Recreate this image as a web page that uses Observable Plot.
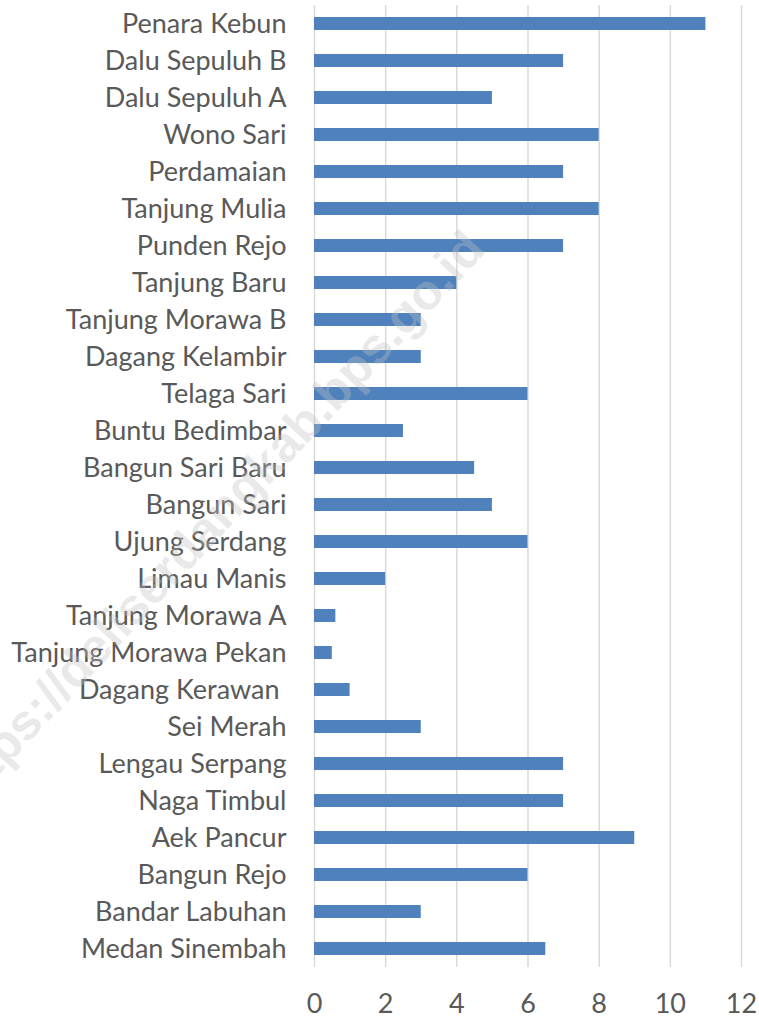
<!DOCTYPE html>
<html>
<head>
<meta charset="utf-8">
<script src="https://cdn.jsdelivr.net/npm/d3@7"></script>
<script src="https://cdn.jsdelivr.net/npm/@observablehq/plot@0.6"></script>
<style>
  html, body { margin: 0; padding: 0; background: #fff; }
  #chart { position: relative; width: 759px; height: 1019px; overflow: hidden; }
  #chart svg { display: block; }
  .wm { position: absolute; left: 0; top: 0; pointer-events: none; }
</style>
</head>
<body>
<div id="chart"></div>
<script>
const villages = [
  "Penara Kebun", "Dalu Sepuluh B", "Dalu Sepuluh A", "Wono Sari", "Perdamaian",
  "Tanjung Mulia", "Punden Rejo", "Tanjung Baru", "Tanjung Morawa B", "Dagang Kelambir",
  "Telaga Sari", "Buntu Bedimbar", "Bangun Sari Baru", "Bangun Sari", "Ujung Serdang",
  "Limau Manis", "Tanjung Morawa A", "Tanjung Morawa Pekan", "Dagang Kerawan\u00a0", "Sei Merah",
  "Lengau Serpang", "Naga Timbul", "Aek Pancur", "Bangun Rejo", "Bandar Labuhan", "Medan Sinembah"
];
const values = [
  11, 7, 5, 8, 7,
  8, 7, 4, 3, 3,
  6, 2.5, 4.5, 5, 6,
  2, 0.6, 0.5, 1, 3,
  7, 7, 9, 6, 3, 6.5
];
const xTicks = [0, 2, 4, 6, 8, 10, 12];
const watermark = "https://deliserdangkab.bps.go.id";

const data = villages.map((v, i) => ({village: v, value: values[i]}));

const font = "Lato, 'Open Sans', sans-serif";
const fs = 27;
const plot = Plot.plot({
  width: 759,
  height: 1019,
  marginLeft: 314,
  marginRight: 18,
  marginTop: 5,
  marginBottom: 52,
  style: {fontFamily: font, fontSize: fs + "px", color: "#595959", background: "#fff"},
  x: {domain: [0, 12], ticks: xTicks, label: null},
  y: {domain: villages, label: null, paddingInner: 0.65, paddingOuter: 0.325},
  marks: [
    Plot.ruleX(xTicks, {stroke: "#d9d9d9", strokeWidth: 1.5}),
    Plot.barX(data, {y: "village", x: "value", fill: "#4f81bd"}),
    Plot.axisX({ticks: xTicks, tickSize: 0, tickPadding: 26, fill: "#595959", fontSize: fs, label: null}),
    Plot.axisY({tickSize: 0, tickPadding: 28, fill: "#595959", fontSize: fs, label: null})
  ]
});
document.getElementById("chart").appendChild(plot);

// faint diagonal watermark overlay
const svg = d3.select("#chart").append("svg")
  .attr("class", "wm").attr("width", 759).attr("height", 1019);
svg.append("text")
  .attr("transform", "translate(487,251) rotate(-47)")
  .attr("text-anchor", "end")
  .attr("font-family", "'Liberation Sans', Arial, sans-serif")
  .attr("font-weight", "bold")
  .attr("font-size", 50)
  .attr("fill", "#bfbfbf")
  .attr("fill-opacity", 0.35)
  .text(watermark);
</script>
</body>
</html>
